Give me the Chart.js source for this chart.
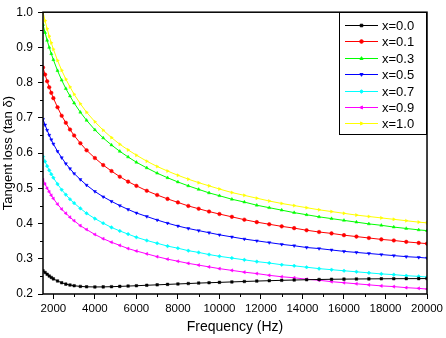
<!DOCTYPE html>
<html>
<head>
<meta charset="utf-8">
<script src="https://cdn.jsdelivr.net/npm/chart.js"></script>
<style>
  body { margin: 0; background: #fff; }
  canvas { display: block; }
</style>
</head>
<body>
<canvas id="graficoPerda" width="446" height="338"></canvas>
<script>
// frequencias (Hz) e tan delta
const frequencias = [1500, 1600, 1700, 1800, 1900, 2000, 2200, 2400, 2600, 2800, 3000, 3300, 3600,
    4000, 4400, 4800, 5200, 5600, 6000, 6500, 7000, 7500, 8000, 8500, 9000, 9500, 10000,
    10600, 11200, 11800, 12400, 13000, 13600, 14200, 14800, 15400, 16000, 16600, 17200,
    17800, 18400, 19000, 19600, 20000];

const x00 = [0.266, 0.261, 0.256, 0.251, 0.247, 0.243, 0.237, 0.232, 0.228, 0.2255, 0.2235, 0.2215, 0.2205,
    0.220, 0.2202, 0.2208, 0.2216, 0.2225, 0.2235, 0.2248, 0.226, 0.2273, 0.2285, 0.2297, 0.231, 0.232, 0.233,
    0.2343, 0.2355, 0.2367, 0.2378, 0.2388, 0.2397, 0.2405, 0.2412, 0.2418, 0.2422, 0.2426, 0.2429,
    0.2432, 0.2434, 0.2436, 0.2437, 0.2438];
const x01 = [0.843, 0.823, 0.804, 0.787, 0.771, 0.756, 0.730, 0.706, 0.686, 0.667, 0.650, 0.628, 0.608,
    0.586, 0.566, 0.549, 0.533, 0.519, 0.507, 0.493, 0.481, 0.470, 0.460, 0.450, 0.442, 0.434, 0.427,
    0.419, 0.411, 0.404, 0.398, 0.392, 0.387, 0.381, 0.376, 0.372, 0.367, 0.363, 0.359,
    0.355, 0.352, 0.348, 0.345, 0.343];
const x03 = [0.965, 0.942, 0.920, 0.900, 0.882, 0.865, 0.834, 0.807, 0.783, 0.762, 0.742, 0.716, 0.693,
    0.666, 0.643, 0.623, 0.605, 0.589, 0.574, 0.558, 0.543, 0.530, 0.518, 0.507, 0.497, 0.487, 0.479,
    0.469, 0.461, 0.452, 0.445, 0.438, 0.431, 0.425, 0.419, 0.414, 0.409, 0.404, 0.399,
    0.395, 0.390, 0.386, 0.382, 0.380];
const x05 = [0.696, 0.680, 0.665, 0.651, 0.638, 0.626, 0.605, 0.587, 0.570, 0.556, 0.542, 0.525, 0.509,
    0.491, 0.476, 0.463, 0.451, 0.440, 0.430, 0.420, 0.410, 0.401, 0.393, 0.386, 0.380, 0.374, 0.368,
    0.362, 0.356, 0.351, 0.346, 0.341, 0.337, 0.332, 0.329, 0.325, 0.321, 0.318, 0.315,
    0.312, 0.309, 0.306, 0.304, 0.302];
const x07 = [0.590, 0.576, 0.563, 0.551, 0.540, 0.530, 0.512, 0.496, 0.482, 0.469, 0.458, 0.443, 0.429,
    0.414, 0.401, 0.389, 0.379, 0.370, 0.361, 0.352, 0.344, 0.336, 0.330, 0.323, 0.318, 0.312, 0.307,
    0.302, 0.297, 0.292, 0.288, 0.283, 0.280, 0.276, 0.272, 0.269, 0.266, 0.263, 0.260,
    0.257, 0.255, 0.252, 0.250, 0.248];
const x09 = [0.524, 0.512, 0.500, 0.490, 0.480, 0.471, 0.455, 0.441, 0.429, 0.418, 0.408, 0.394, 0.383,
    0.369, 0.357, 0.347, 0.338, 0.329, 0.322, 0.314, 0.306, 0.299, 0.293, 0.287, 0.282, 0.277, 0.272,
    0.267, 0.262, 0.258, 0.253, 0.249, 0.246, 0.242, 0.239, 0.235, 0.232, 0.229, 0.226,
    0.223, 0.221, 0.218, 0.216, 0.214];
const x10 = [1.000, 0.976, 0.953, 0.932, 0.913, 0.895, 0.863, 0.835, 0.810, 0.788, 0.767, 0.740, 0.716,
    0.689, 0.665, 0.644, 0.625, 0.609, 0.594, 0.577, 0.562, 0.549, 0.537, 0.526, 0.516, 0.507, 0.498,
    0.488, 0.480, 0.472, 0.464, 0.457, 0.451, 0.445, 0.439, 0.434, 0.429, 0.424, 0.420,
    0.416, 0.412, 0.408, 0.404, 0.402];

const legendas = ['x=0.0', 'x=0.1', 'x=0.3', 'x=0.5', 'x=0.7', 'x=0.9', 'x=1.0'];
const series = [x00, x01, x03, x05, x07, x09, x10];
const cores = ['#000000', '#ff0000', '#00ff00', '#0000ff', '#00ffff', '#ff00ff', '#ffff00'];
const simbolos = ['rect', 'circle', 'triangle', 'triangle', 'rectRot', 'triangle', 'triangle'];
const rotacoes = [0, 0, 0, 180, 0, 270, 90];

const ticksX = [2000, 4000, 6000, 8000, 10000, 12000, 14000, 16000, 18000, 20000];
const ticksXMenores = [3000, 5000, 7000, 9000, 11000, 13000, 15000, 17000, 19000];
const ticksY = [0.2, 0.3, 0.4, 0.5, 0.6, 0.7, 0.8, 0.9, 1.0];
const ticksYMenores = [0.25, 0.35, 0.45, 0.55, 0.65, 0.75, 0.85, 0.95];

const fonte = "'Liberation Sans', Arial, sans-serif";

const datasets = series.map((valores, i) => ({
    label: legendas[i],
    data: frequencias.map((f, j) => ({x: f, y: valores[j]})),
    borderColor: cores[i],
    backgroundColor: cores[i],
    pointBackgroundColor: cores[i],
    pointBorderColor: cores[i],
    borderWidth: 1,
    pointStyle: simbolos[i],
    pointRotation: rotacoes[i],
    pointRadius: 1.8,
    pointBorderWidth: 0.5,
    tension: 0
}));

// moldura, ticks menores e legenda dentro do grafico
const extras = {
    id: 'extras',
    afterDraw(chart) {
        const {ctx, chartArea: a, scales} = chart;
        ctx.save();
        ctx.strokeStyle = '#000';
        ctx.lineWidth = 1.5;
        ctx.strokeRect(a.left, a.top, a.right - a.left, a.bottom - a.top);

        ctx.lineWidth = 1;
        ctx.beginPath();
        ticksXMenores.forEach(v => {
            const px = Math.round(scales.x.getPixelForValue(v)) + 0.5;
            ctx.moveTo(px, a.bottom);
            ctx.lineTo(px, a.bottom + 3);
        });
        ticksYMenores.forEach(v => {
            const py = Math.round(scales.y.getPixelForValue(v)) + 0.5;
            ctx.moveTo(a.left, py);
            ctx.lineTo(a.left - 3, py);
        });
        ctx.stroke();

        // legenda
        const caixa = {x: 339.5, y: 12.5, w: 87, h: 122};
        ctx.fillStyle = '#fff';
        ctx.fillRect(caixa.x, caixa.y, caixa.w, caixa.h);
        ctx.lineWidth = 1;
        ctx.strokeStyle = '#000';
        ctx.strokeRect(caixa.x, caixa.y, caixa.w, caixa.h);
        ctx.font = '13px ' + fonte;
        ctx.textBaseline = 'middle';
        ctx.textAlign = 'left';
        legendas.forEach((txt, i) => {
            const yy = Math.round(25 + i * 16.4) + 0.5;
            ctx.strokeStyle = cores[i];
            ctx.fillStyle = cores[i];
            ctx.beginPath();
            ctx.moveTo(345, yy);
            ctx.lineTo(378, yy);
            ctx.stroke();
            Chart.helpers.drawPoint(ctx, {pointStyle: simbolos[i], radius: 1.8, rotation: rotacoes[i], borderWidth: 0.5}, 361.5, yy);
            ctx.fillStyle = '#000';
            ctx.fillText(txt, 382, yy + 0.5);
        });
        ctx.restore();
    }
};

const graficoPerda = new Chart(document.getElementById('graficoPerda'), {
    type: 'line',
    data: {datasets: datasets},
    options: {
        responsive: false,
        animation: false,
        layout: {padding: {top: 5, right: 13, left: 0, bottom: 0}},
        plugins: {legend: {display: false}, tooltip: {enabled: false}},
        scales: {
            x: {
                type: 'linear',
                min: 1500,
                max: 20000,
                afterBuildTicks: scale => { scale.ticks = ticksX.map(v => ({value: v})); },
                afterFit: scale => { scale.height = 44; },
                grid: {drawOnChartArea: false, tickLength: 5, color: '#000', tickColor: '#000'},
                border: {display: false},
                ticks: {
                    autoSkip: false, maxRotation: 0, padding: 3, color: '#000',
                    font: {family: fonte, size: 11.5},
                    callback: v => String(v)
                },
                title: {
                    display: true, text: 'Frequency (Hz)', color: '#000',
                    font: {family: fonte, size: 14}, padding: {top: 0, bottom: 2}
                }
            },
            y: {
                type: 'linear',
                min: 0.2,
                max: 1.0,
                afterBuildTicks: scale => { scale.ticks = ticksY.map(v => ({value: v})); },
                afterFit: scale => { scale.width = 43; },
                grid: {drawOnChartArea: false, tickLength: 5, color: '#000', tickColor: '#000'},
                border: {display: false},
                ticks: {
                    padding: 5, color: '#000',
                    font: {family: fonte, size: 12},
                    callback: v => v.toFixed(1)
                },
                title: {
                    display: true, text: 'Tangent loss (tan δ)', color: '#000',
                    font: {family: fonte, size: 13}, padding: {top: 1, bottom: 0}
                }
            }
        }
    },
    plugins: [extras]
});
</script>
</body>
</html>
